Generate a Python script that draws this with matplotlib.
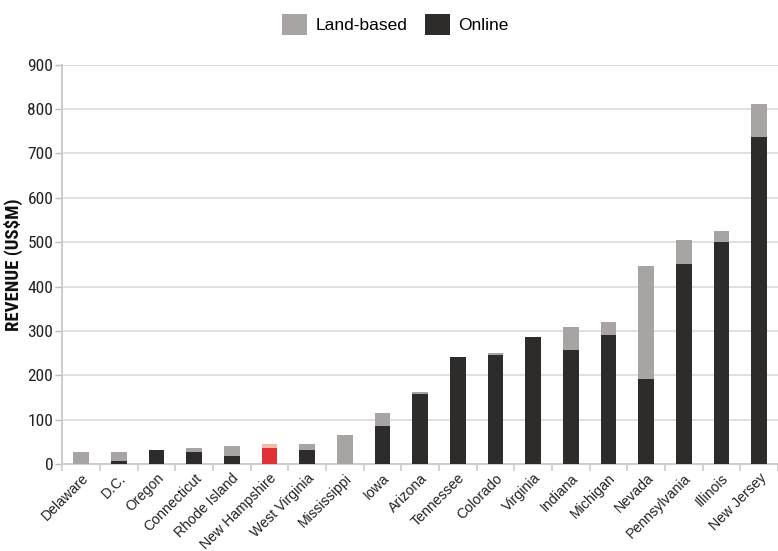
import matplotlib
matplotlib.use("Agg")
import matplotlib.pyplot as plt
from matplotlib import font_manager
from matplotlib.font_manager import FontProperties
from matplotlib.patches import Patch
import numpy as np

states = ["Delaware", "D.C.", "Oregon", "Connecticut", "Rhode Island",
          "New Hampshire", "West Virginia", "Mississippi", "Iowa", "Arizona",
          "Tennessee", "Colorado", "Virginia", "Indiana", "Michigan", "Nevada",
          "Pennsylvania", "Illinois", "New Jersey"]
online = [0, 6, 31, 28, 19, 35, 31, 0, 85, 157, 241, 245, 286, 258, 290,
          191, 451, 500, 737]
land_based = [26, 20, 0, 7, 21, 11, 15, 65, 29, 6, 0, 6, 0, 50, 29,
              255, 54, 25, 75]
highlight = "New Hampshire"
y_ticks = [0, 100, 200, 300, 400, 500, 600, 700, 800, 900]

LAND = "#a8a4a3"
ONLINE = "#2e2c2a"
LAND_HI = "#f4baa6"
ONLINE_HI = "#e03236"

fonts = font_manager.fontManager.ttflist
names = {f.name for f in fonts}
regular = "Liberation Sans" if "Liberation Sans" in names else "DejaVu Sans"


def condensed_font(weight="normal"):
    """Pick a narrow face if one is installed, else the regular family."""
    for name in ("Liberation Sans Narrow", "DejaVu Sans Condensed",
                 "Roboto Condensed", "Open Sans Condensed", "Noto Sans Condensed"):
        if name in names:
            return FontProperties(family=name, weight=weight)
    for f in fonts:
        if f.stretch in ("condensed", "semi-condensed", 300, 400) and \
                f.name in ("DejaVu Sans", "Noto Sans", "Open Sans", "Roboto"):
            return FontProperties(family=f.name, stretch=f.stretch, weight=weight)
    return FontProperties(family=regular, weight=weight)


tick_font = condensed_font()
tick_font.set_size(12.5)
label_font = condensed_font("bold")
label_font.set_size(13.5)

fig = plt.figure(figsize=(7.78, 5.51), dpi=100)
ax = fig.add_axes([62.3 / 778, 1 - 464 / 551, 1 - 62.3 / 778, (464 - 64.7) / 551])

x = np.arange(len(states))
on_colors = [ONLINE_HI if s == highlight else ONLINE for s in states]
land_colors = [LAND_HI if s == highlight else LAND for s in states]
ax.bar(x, online, width=0.42, color=on_colors, zorder=3)
ax.bar(x, land_based, width=0.42, bottom=online, color=land_colors, zorder=3)

ax.set_xlim(-0.5, len(states) - 0.5)
ax.set_ylim(0, 900)
ax.set_yticks(y_ticks)
ax.yaxis.grid(True, color="#dddddd", linewidth=1.3, zorder=0)
ax.set_axisbelow(True)

for side in ("top", "right"):
    ax.spines[side].set_visible(False)
for side in ("left", "bottom"):
    ax.spines[side].set_color("#cccccc")
    ax.spines[side].set_linewidth(1.4)

ax.tick_params(axis="y", length=5, width=1, color="#bbbbbb", pad=1.5,
               labelcolor="#222222")
for lbl in ax.get_yticklabels():
    lbl.set_fontproperties(tick_font)

ax.set_xticks(x)
ax.set_xticklabels(states, rotation=45, ha="right", va="top",
                   rotation_mode="anchor", fontsize=10.2, color="#222222",
                   fontfamily=regular)
ax.tick_params(axis="x", which="major", length=0, pad=5)
ax.set_xticks(np.arange(len(states) + 1) - 0.5, minor=True)
ax.tick_params(axis="x", which="minor", length=5, width=1.2, color="#cccccc")

ax.set_ylabel("REVENUE (US$M)", fontproperties=label_font, color="#111111",
              labelpad=3)

handles = [Patch(facecolor=LAND, label="Land-based"),
           Patch(facecolor=ONLINE, label="Online")]
fig.legend(handles=handles, loc="center", bbox_to_anchor=(0.508, 0.9555),
           ncol=2, frameon=False, handlelength=1.44,
           handleheight=1.44, handletextpad=0.46, columnspacing=1.03,
           prop={"family": regular, "size": 12.5})

fig.savefig("out.png", dpi=100)
